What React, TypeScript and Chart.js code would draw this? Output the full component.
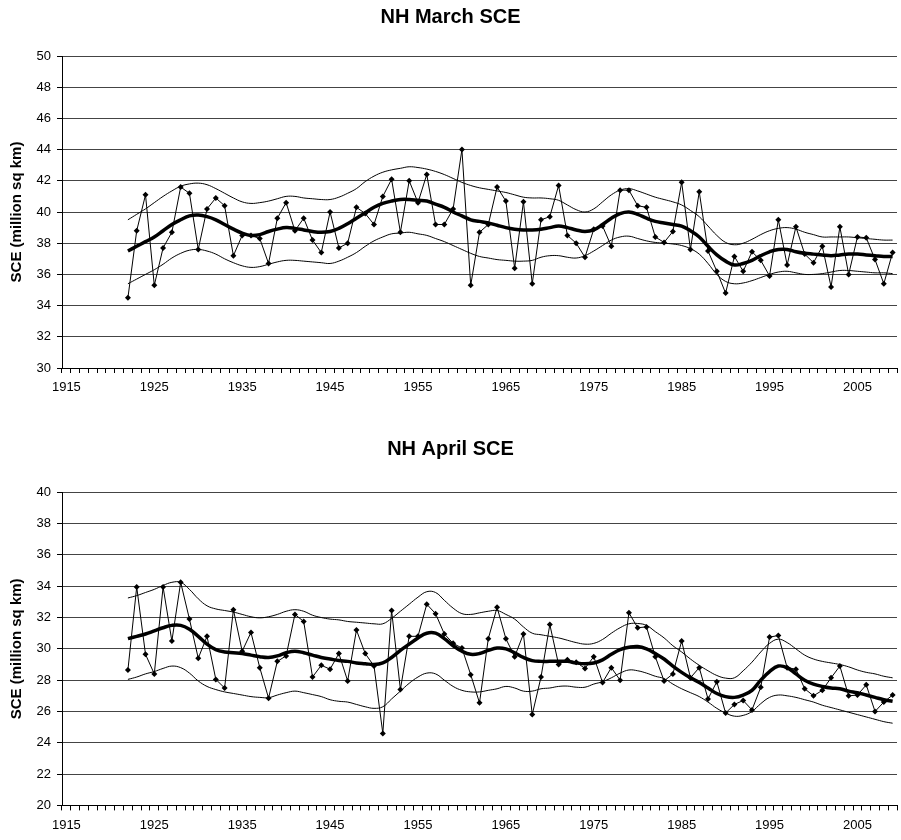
import React, { useEffect, useRef } from 'react';
import { Chart, registerables } from 'chart.js';

Chart.register(...registerables);

const FONT = '"Liberation Sans", Arial, Helvetica, sans-serif';

// Category axis spans these years; data starts in 1922
const axisStartYear = 1915;
const axisEndYear = 2009;
const dataStartYear = 1922;
const xTickLabels = ['1915', '1925', '1935', '1945', '1955', '1965', '1975', '1985', '1995', '2005'];
const yAxisTitle = 'SCE (million sq km)';

// ---------- NH March SCE (1922..2009) ----------
const marchRaw = [
  34.5, 38.8, 41.1, 35.3, 37.7, 38.7, 41.6, 41.2, 37.6, 40.2,
  40.9, 40.4, 37.2, 38.5, 38.5, 38.3, 36.7, 39.6, 40.6, 38.8,
  39.6, 38.2, 37.4, 40.0, 37.7, 38.0, 40.3, 39.9, 39.2, 41.0,
  42.1, 38.7, 42.0, 40.6, 42.4, 39.2, 39.2, 40.2, 44.0, 35.3,
  38.7, 39.2, 41.6, 40.7, 36.4, 40.65, 35.4, 39.5, 39.7, 41.7,
  38.5, 38.0, 37.1, 38.9, 39.1, 37.8, 41.4, 41.4, 40.4, 40.3,
  38.4, 38.05, 38.75, 41.9, 37.6, 41.3, 37.5, 36.2, 34.8, 37.15,
  36.2, 37.45, 36.9, 35.9, 39.5, 36.6, 39.05, 37.3, 36.75, 37.8,
  35.2, 39.05, 36.0, 38.4, 38.35, 36.95, 35.4, 37.4,
];
const marchSmooth = [
  37.5, 37.8, 38.1, 38.4, 38.8, 39.2, 39.5, 39.75, 39.8, 39.7,
  39.5, 39.2, 38.9, 38.65, 38.5, 38.55, 38.75, 38.9, 39.0, 38.95,
  38.85, 38.75, 38.7, 38.75, 38.95, 39.25, 39.6, 39.95, 40.3, 40.55,
  40.7, 40.8, 40.8, 40.75, 40.7, 40.5, 40.3, 40.0, 39.75, 39.5,
  39.4, 39.3, 39.15, 39.0, 38.9, 38.85, 38.85, 38.9, 39.0, 39.1,
  39.0, 38.85, 38.75, 38.85, 39.2, 39.6, 39.9, 40.0, 39.85, 39.6,
  39.4, 39.3, 39.2, 39.1, 38.8, 38.4, 37.8, 37.25, 36.85, 36.6,
  36.7, 36.9, 37.2, 37.45, 37.6, 37.6, 37.45, 37.35, 37.3, 37.25,
  37.2, 37.25, 37.3, 37.3, 37.25, 37.2, 37.15, 37.15,
];
const marchUpper = [
  39.5, 39.85, 40.2, 40.6, 41.0, 41.35, 41.65, 41.8, 41.85, 41.75,
  41.5, 41.2, 40.9, 40.65, 40.55, 40.6, 40.7, 40.85, 41.0, 41.0,
  40.9, 40.85, 40.8, 40.8, 40.95, 41.2, 41.5, 41.95, 42.3, 42.55,
  42.7, 42.8, 42.9, 42.85, 42.75, 42.6, 42.4, 42.15, 41.9, 41.7,
  41.55, 41.45, 41.35, 41.25, 41.1, 40.95, 40.9, 40.9, 40.85, 40.75,
  40.45, 40.15, 40.0, 40.2, 40.65, 41.1, 41.4, 41.5, 41.35, 41.15,
  40.95, 40.8, 40.65, 40.45, 40.1, 39.7, 39.1, 38.5, 38.05, 37.9,
  38.0, 38.25, 38.55, 38.8, 38.95, 39.0, 38.9, 38.7, 38.55, 38.4,
  38.4, 38.4, 38.4, 38.35, 38.3, 38.25, 38.2, 38.2,
];
const marchLower = [
  35.4, 35.7, 36.0, 36.3, 36.65, 37.05, 37.35, 37.55, 37.6, 37.5,
  37.3, 37.0, 36.75, 36.55, 36.45, 36.5, 36.65, 36.8, 36.9, 36.9,
  36.85, 36.8, 36.75, 36.7, 36.85, 37.1, 37.4, 37.8, 38.15, 38.4,
  38.6, 38.65, 38.7, 38.6, 38.5, 38.3, 38.1, 37.85, 37.6, 37.35,
  37.15, 37.05, 36.95, 36.9, 36.85, 36.85, 36.9, 37.1, 37.2, 37.2,
  37.1, 37.05, 37.2, 37.5, 37.85, 38.2, 38.4, 38.45, 38.3, 38.15,
  38.05, 38.0, 37.95, 37.85, 37.65, 37.3, 36.7, 36.0, 35.55, 35.4,
  35.45, 35.6, 35.8, 36.0, 36.15, 36.2, 36.1, 36.0, 36.0, 36.05,
  36.15, 36.25, 36.25, 36.2, 36.15, 36.1, 36.1, 36.05,
];

// ---------- NH April SCE (1922..2009) ----------
const aprilRaw = [
  28.65, 33.95, 29.65, 28.4, 33.95, 30.5, 34.25, 31.9, 29.4, 30.8,
  28.05, 27.5, 32.5, 29.85, 31.05, 28.8, 26.85, 29.2, 29.55, 32.2,
  31.75, 28.2, 28.95, 28.7, 29.7, 27.95, 31.2, 29.7, 28.9, 24.6,
  32.45, 27.4, 30.8, 30.8, 32.85, 32.25, 30.95, 30.35, 30.05, 28.35,
  26.55, 30.65, 32.65, 30.65, 29.5, 30.95, 25.8, 28.2, 31.55, 29.0,
  29.3, 29.15, 28.75, 29.5, 27.85, 28.8, 28.0, 32.3, 31.35, 31.4,
  29.5, 27.95, 28.4, 30.5, 28.15, 28.8, 26.8, 27.9, 25.9, 26.45,
  26.7, 26.1, 27.55, 30.75, 30.85, 28.8, 28.7, 27.45, 27.0, 27.35,
  28.15, 28.9, 27.0, 27.05, 27.7, 26.0, 26.6, 27.05,
];
const aprilSmooth = [
  30.65, 30.8, 30.95, 31.15, 31.35, 31.5, 31.5, 31.25, 30.8, 30.3,
  29.95, 29.8, 29.75, 29.7, 29.6, 29.5, 29.45, 29.55, 29.75, 29.85,
  29.75, 29.6, 29.45, 29.35, 29.25, 29.2, 29.1, 29.05, 29.0, 29.1,
  29.45, 29.9, 30.3, 30.7, 31.0, 31.0, 30.65, 30.2, 29.85, 29.65,
  29.7, 29.9, 30.05, 30.0, 29.75, 29.45, 29.25, 29.2, 29.2, 29.2,
  29.2, 29.1, 29.05, 29.1, 29.3, 29.65, 29.95, 30.1, 30.15, 30.0,
  29.7, 29.35, 28.9, 28.5, 28.15, 27.85, 27.5, 27.15, 26.95, 26.9,
  27.05, 27.35, 28.0, 28.55, 28.9, 28.8, 28.4, 28.0, 27.75, 27.6,
  27.5, 27.45, 27.3, 27.2, 27.05, 26.9, 26.75, 26.65,
];
const aprilUpper = [
  33.25, 33.4, 33.6, 33.8, 34.05, 34.25, 34.25, 33.8, 33.2, 32.75,
  32.55, 32.45, 32.35, 32.2, 32.05, 31.98, 32.05, 32.2, 32.4, 32.5,
  32.4, 32.15, 32.0, 31.9, 31.85, 31.75, 31.7, 31.65, 31.6, 31.6,
  31.95, 32.4, 32.85, 33.3, 33.65, 33.6, 33.1, 32.6, 32.25, 32.2,
  32.3, 32.4, 32.45, 32.2, 31.9, 31.4, 31.0, 30.9, 30.8, 30.7,
  30.55, 30.4, 30.3, 30.35, 30.6, 31.0, 31.35, 31.6, 31.62, 31.5,
  31.1, 30.7, 30.2, 29.8, 29.35, 28.95, 28.6, 28.3, 28.13, 28.15,
  28.6, 29.15, 29.8, 30.35, 30.62, 30.4, 30.0, 29.6, 29.35, 29.2,
  29.1, 29.0, 28.85, 28.65, 28.5, 28.4, 28.25, 28.15,
];
const aprilLower = [
  28.05, 28.2, 28.4, 28.55, 28.75, 28.9, 28.8, 28.45, 27.95, 27.6,
  27.4, 27.25, 27.15, 27.05, 26.95, 26.9, 26.88, 27.05, 27.2, 27.3,
  27.2, 27.08, 26.95, 26.75, 26.65, 26.6, 26.45, 26.3, 26.2, 26.3,
  26.8, 27.3, 27.8, 28.2, 28.45, 28.4, 28.0, 27.6, 27.35, 27.25,
  27.25, 27.35, 27.45, 27.6, 27.5, 27.3, 27.3, 27.45, 27.5, 27.6,
  27.62, 27.55, 27.55, 27.75, 27.9, 28.15, 28.45, 28.65, 28.6, 28.45,
  28.25, 28.1, 27.75, 27.45, 27.2, 26.95, 26.6, 26.2, 25.9, 25.7,
  25.75, 26.0, 26.5, 26.9, 27.05, 27.0, 26.9, 26.75, 26.6, 26.4,
  26.25, 26.1, 25.95, 25.8, 25.65, 25.5, 25.35, 25.25,
];

const axisYears: number[] = Array.from(
  { length: axisEndYear - axisStartYear + 1 },
  (_, i) => axisStartYear + i
);

function alignToAxis(values: number[]): (number | null)[] {
  return axisYears.map((y) => {
    const i = y - dataStartYear;
    return i >= 0 && i < values.length ? values[i] : null;
  });
}

interface PanelSpec {
  title: string;
  raw: number[];
  smooth: number[];
  upper: number[];
  lower: number[];
  yMin: number;
  yMax: number;
  titlePadTop: number;
  titlePadBottom: number;
  padBottom: number;
}

function buildConfig(p: PanelSpec): any {
  const thin = {
    borderColor: '#000',
    borderWidth: 1,
    pointRadius: 0,
    tension: 0.4,
    fill: false,
  };
  return {
    type: 'line',
    data: {
      labels: axisYears.map(String),
      datasets: [
        {
          label: 'Annual',
          data: alignToAxis(p.raw),
          borderColor: '#000',
          borderWidth: 1,
          tension: 0,
          pointStyle: 'rectRot',
          pointRadius: 3,
          pointBackgroundColor: '#000',
          pointBorderColor: '#000',
          pointBorderWidth: 0,
          fill: false,
        },
        {
          label: 'Smoothed',
          data: alignToAxis(p.smooth),
          borderColor: '#000',
          borderWidth: 3.5,
          pointRadius: 0,
          tension: 0.4,
          fill: false,
        },
        { label: 'Upper', data: alignToAxis(p.upper), ...thin },
        { label: 'Lower', data: alignToAxis(p.lower), ...thin },
      ],
    },
    options: {
      responsive: false,
      animation: false,
      devicePixelRatio: 1,
      layout: { padding: { top: 0, right: 0, bottom: p.padBottom, left: 0 } },
      plugins: {
        legend: { display: false },
        tooltip: { enabled: false },
        title: {
          display: true,
          text: p.title,
          color: '#000',
          font: { family: FONT, size: 20, weight: 'bold', lineHeight: 1.2 },
          padding: { top: p.titlePadTop, bottom: p.titlePadBottom },
        },
      },
      scales: {
        x: {
          type: 'category',
          offset: true,
          grid: {
            offset: true,
            drawOnChartArea: false,
            drawTicks: true,
            tickLength: 5,
            color: '#000',
          },
          border: { display: true, color: '#000', width: 1 },
          ticks: {
            autoSkip: false,
            maxRotation: 0,
            minRotation: 0,
            padding: 7,
            color: '#000',
            font: { family: FONT, size: 13 },
            callback: function (this: any, value: any) {
              const lab = this.getLabelForValue(value);
              return xTickLabels.includes(lab) ? lab : '';
            },
          },
          afterFit: (s: any) => {
            s.paddingLeft = 0;
            s.paddingRight = 0;
          },
        },
        y: {
          min: p.yMin,
          max: p.yMax,
          ticks: {
            stepSize: 2,
            padding: 6,
            color: '#000',
            font: { family: FONT, size: 13 },
          },
          grid: { color: '#444', tickLength: 5, tickColor: '#000', lineWidth: 1 },
          border: { display: true, color: '#000', width: 1 },
          title: {
            display: true,
            text: yAxisTitle,
            color: '#000',
            font: { family: FONT, size: 15, weight: 'bold', lineHeight: 1.2 },
            padding: { top: 8, bottom: 0 },
          },
          afterFit: (s: any) => {
            s.width = 62;
          },
        },
      },
    },
  };
}

const marchSpec: PanelSpec = {
  title: 'NH March SCE',
  raw: marchRaw,
  smooth: marchSmooth,
  upper: marchUpper,
  lower: marchLower,
  yMin: 30,
  yMax: 50,
  titlePadTop: 5,
  titlePadBottom: 27,
  padBottom: 17.4,
};

const aprilSpec: PanelSpec = {
  title: 'NH April SCE',
  raw: aprilRaw,
  smooth: aprilSmooth,
  upper: aprilUpper,
  lower: aprilLower,
  yMin: 20,
  yMax: 40,
  titlePadTop: 17,
  titlePadBottom: 31.3,
  padBottom: 0,
};

function Panel({ spec }: { spec: PanelSpec }) {
  const ref = useRef<HTMLCanvasElement | null>(null);
  useEffect(() => {
    if (!ref.current) return;
    const chart = new Chart(ref.current, buildConfig(spec));
    return () => chart.destroy();
  }, [spec]);
  return <canvas ref={ref} width={901} height={420} style={{ display: 'block' }} />;
}

export default function App() {
  return (
    <div
      style={{
        position: 'absolute',
        left: 0,
        top: 0,
        width: 901,
        height: 840,
        overflow: 'hidden',
        background: '#fff',
      }}
    >
      <Panel spec={marchSpec} />
      <Panel spec={aprilSpec} />
    </div>
  );
}
